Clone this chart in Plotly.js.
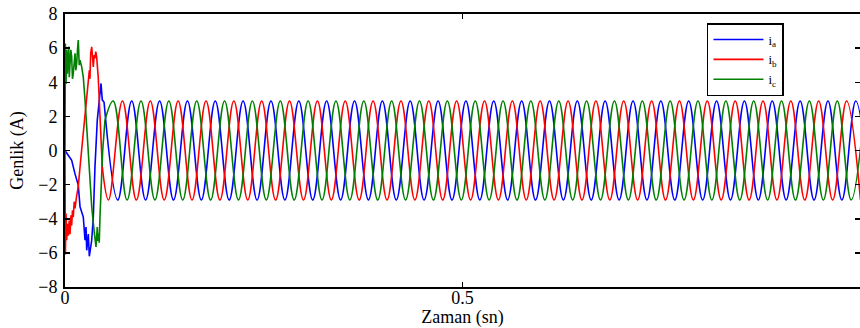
<!DOCTYPE html>
<html><head><meta charset="utf-8">
<script src="https://cdn.plot.ly/plotly-3.0.1.min.js"></script>
<style>html,body{margin:0;padding:0;background:#fff}</style>
</head><body><div id="chart" style="width:860px;height:328px"></div>
<script>
// Start-up transient samples (time in s, current in A)
const iaTransT = [0, 0.0084, 0.0126, 0.0167, 0.0189, 0.0230, 0.0252, 0.0264, 0.0273, 0.0293, 0.0306, 0.0336, 0.0356, 0.0377, 0.0406, 0.0431, 0.0453, 0.0469, 0.0491];
const iaTransY = [0, -0.57, -1.37, -2.03, -3.3, -3.9, -5.26, -4.48, -5.85, -4.9, -6.2, -5.26, -3.9, -0.96, 1.78, 2.95, 3.93, 2.95, 2.85];

const ibTransT = [0, 0.0005, 0.0013, 0.0021, 0.0031, 0.0042, 0.0053, 0.0063, 0.0075, 0.0084, 0.0094, 0.0104, 0.0116, 0.0126, 0.0145, 0.0167, 0.0197, 0.0230, 0.0264, 0.0293, 0.0306, 0.0314, 0.0323, 0.0336, 0.0346, 0.0356, 0.0367, 0.0377, 0.0387, 0.0398, 0.0418, 0.0440, 0.0469];
const ibTransY = [0, -6.1, -3.7, -5.26, -4.3, -5.0, -4.1, -4.9, -3.8, -4.4, -3.5, -3.9, -3.0, -3.4, -2.7, -2.1, -0.57, 1.0, 2.36, 3.73, 4.7, 4.2, 5.7, 6.07, 5.0, 4.9, 5.6, 5.4, 5.8, 5.5, 4.3, 1.97, -0.96];

const icTransT = [0, 0.0005, 0.0013, 0.0021, 0.0029, 0.0047, 0.0054, 0.0063, 0.0073, 0.0084, 0.0094, 0.0104, 0.0116, 0.0126, 0.0136, 0.0147, 0.0157, 0.0167, 0.0179, 0.0189, 0.0210, 0.0230, 0.0252, 0.0273, 0.0293, 0.0314, 0.0336, 0.0365, 0.0390, 0.0406, 0.0415, 0.0424, 0.0431, 0.0440, 0.0457, 0.0474, 0.0503];
const icTransY = [0, 6.27, 3.9, 5.9, 4.5, 6.1, 4.3, 4.9, 5.9, 5.5, 4.2, 4.5, 5.3, 5.7, 4.7, 5.1, 5.9, 6.47, 5.0, 5.3, 4.9, 4.3, 2.95, 1.38, -0.18, -1.74, -3.3, -4.67, -5.65, -4.48, -5.3, -4.87, -5.4, -3.9, -2.13, 0, 1.78];

// Steady state: times of successive peaks / troughs and their values
const iaSteadyT = [0.0664, 0.0839, 0.1014, 0.1190, 0.1365, 0.1540, 0.1715, 0.1890, 0.2065, 0.2240, 0.2416, 0.2591, 0.2766, 0.2941, 0.3116, 0.3291, 0.3467, 0.3642, 0.3817, 0.3992, 0.4167, 0.4342, 0.4517, 0.4693, 0.4868, 0.5043, 0.5218, 0.5393, 0.5568, 0.5744, 0.5919, 0.6094, 0.6269, 0.6444, 0.6619, 0.6794, 0.6970, 0.7145, 0.7320, 0.7495, 0.7670, 0.7845, 0.8021, 0.8196, 0.8371, 0.8546, 0.8721, 0.8896, 0.9071, 0.9247, 0.9422, 0.9597, 0.9772, 0.9947, 1.0122];
const iaSteadyY = [-2.9, 2.9, -2.9, 2.9, -2.9, 2.9, -2.9, 2.9, -2.9, 2.9, -2.9, 2.9, -2.9, 2.9, -2.9, 2.9, -2.9, 2.9, -2.9, 2.9, -2.9, 2.9, -2.9, 2.9, -2.9, 2.9, -2.9, 2.9, -2.9, 2.9, -2.9, 2.9, -2.9, 2.9, -2.9, 2.9, -2.9, 2.9, -2.9, 2.9, -2.9, 2.9, -2.9, 2.9, -2.9, 2.9, -2.9, 2.9, -2.9, 2.9, -2.9, 2.9, -2.9, 2.9, -2.9];

const ibSteadyT = [0.0547, 0.0723, 0.0898, 0.1073, 0.1248, 0.1423, 0.1598, 0.1774, 0.1949, 0.2124, 0.2299, 0.2474, 0.2649, 0.2824, 0.3000, 0.3175, 0.3350, 0.3525, 0.3700, 0.3875, 0.4051, 0.4226, 0.4401, 0.4576, 0.4751, 0.4926, 0.5102, 0.5277, 0.5452, 0.5627, 0.5802, 0.5977, 0.6152, 0.6328, 0.6503, 0.6678, 0.6853, 0.7028, 0.7203, 0.7379, 0.7554, 0.7729, 0.7904, 0.8079, 0.8254, 0.8430, 0.8605, 0.8780, 0.8955, 0.9130, 0.9305, 0.9480, 0.9656, 0.9831, 1.0006];
const ibSteadyY = [-2.9, 2.9, -2.9, 2.9, -2.9, 2.9, -2.9, 2.9, -2.9, 2.9, -2.9, 2.9, -2.9, 2.9, -2.9, 2.9, -2.9, 2.9, -2.9, 2.9, -2.9, 2.9, -2.9, 2.9, -2.9, 2.9, -2.9, 2.9, -2.9, 2.9, -2.9, 2.9, -2.9, 2.9, -2.9, 2.9, -2.9, 2.9, -2.9, 2.9, -2.9, 2.9, -2.9, 2.9, -2.9, 2.9, -2.9, 2.9, -2.9, 2.9, -2.9, 2.9, -2.9, 2.9, -2.9];

const icSteadyT = [0.0606, 0.0781, 0.0956, 0.1131, 0.1306, 0.1481, 0.1657, 0.1832, 0.2007, 0.2182, 0.2357, 0.2532, 0.2708, 0.2883, 0.3058, 0.3233, 0.3408, 0.3583, 0.3759, 0.3934, 0.4109, 0.4284, 0.4459, 0.4634, 0.4809, 0.4985, 0.5160, 0.5335, 0.5510, 0.5685, 0.5860, 0.6036, 0.6211, 0.6386, 0.6561, 0.6736, 0.6911, 0.7086, 0.7262, 0.7437, 0.7612, 0.7787, 0.7962, 0.8137, 0.8313, 0.8488, 0.8663, 0.8838, 0.9013, 0.9188, 0.9363, 0.9539, 0.9714, 0.9889, 1.0064];
const icSteadyY = [2.9, -2.9, 2.9, -2.9, 2.9, -2.9, 2.9, -2.9, 2.9, -2.9, 2.9, -2.9, 2.9, -2.9, 2.9, -2.9, 2.9, -2.9, 2.9, -2.9, 2.9, -2.9, 2.9, -2.9, 2.9, -2.9, 2.9, -2.9, 2.9, -2.9, 2.9, -2.9, 2.9, -2.9, 2.9, -2.9, 2.9, -2.9, 2.9, -2.9, 2.9, -2.9, 2.9, -2.9, 2.9, -2.9, 2.9, -2.9, 2.9, -2.9, 2.9, -2.9, 2.9, -2.9, 2.9];

const seriesNames = ['i<sub>a</sub>', 'i<sub>b</sub>', 'i<sub>c</sub>'];
const seriesColors = ['#0000ff', '#ff0000', '#008000'];
const xTickVals = [0, 0.5];
const xTickText = ['0', '0.5'];
const yTickVals = [-8, -6, -4, -2, 0, 2, 4, 6, 8];

const trans = [[iaTransT, iaTransY], [ibTransT, ibTransY], [icTransT, icTransY]];
const steady = [[iaSteadyT, iaSteadyY], [ibSteadyT, ibSteadyY], [icSteadyT, icSteadyY]];

const traces = [];
trans.forEach((s, i) => {
  traces.push({
    x: s[0], y: s[1], type: 'scatter', mode: 'lines',
    name: seriesNames[i],
    line: {color: seriesColors[i], width: 1.6}
  });
});
steady.forEach((s, i) => {
  const tt = trans[i][0], ty = trans[i][1];
  traces.push({
    x: [tt[tt.length - 1]].concat(s[0]), y: [ty[ty.length - 1]].concat(s[1]),
    type: 'scatter', mode: 'lines', showlegend: false,
    line: {color: seriesColors[i], width: 1.6, shape: 'spline', smoothing: 1.1}
  });
});

const serif = '"Liberation Serif", "Times New Roman", serif';
const axisFont = {family: serif, size: 18, color: '#000'};
const layout = {
  width: 860, height: 328,
  margin: {l: 65, r: 0, t: 14, b: 41},
  paper_bgcolor: '#fff', plot_bgcolor: '#fff',
  showlegend: true,
  font: axisFont,
  xaxis: {
    range: [0, 1], tickvals: xTickVals, ticktext: xTickText,
    ticks: 'inside', ticklen: 5, tickwidth: 1.5, tickcolor: '#000',
    showline: true, linewidth: 2, linecolor: '#000', mirror: 'ticks',
    showgrid: false, zeroline: false,
    tickfont: axisFont, ticklabelstandoff: -7,
    title: {text: 'Zaman (sn)', font: axisFont, standoff: 0},
    automargin: false
  },
  yaxis: {
    range: [-8, 8], tickvals: yTickVals,
    ticks: 'inside', ticklen: 5, tickwidth: 1.5, tickcolor: '#000',
    showline: true, linewidth: 2, linecolor: '#000', mirror: 'ticks',
    showgrid: false, zeroline: false,
    tickfont: axisFont, ticklabelstandoff: 2,
    title: {text: 'Genlik (A)', font: axisFont, standoff: 10},
    automargin: false
  },
  legend: {
    x: 0.8075, y: 0.967, xanchor: 'left', yanchor: 'top',
    bgcolor: '#fff', bordercolor: '#000', borderwidth: 1.5,
    tracegroupgap: 0, itemwidth: 50,
    font: {family: serif, size: 13, color: '#000'}
  }
};

Plotly.newPlot('chart', traces, layout, {displayModeBar: false, staticPlot: true});
</script></body></html>
